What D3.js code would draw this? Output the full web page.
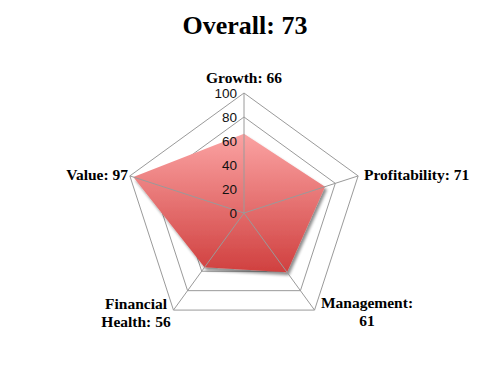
<!DOCTYPE html>
<html><head><meta charset="utf-8">
<script src="https://cdn.jsdelivr.net/npm/d3@7"></script>
<style>html,body{margin:0;padding:0;background:#fff;}svg{display:block;}</style>
</head><body>
<svg id="chart" width="490" height="381"></svg>
<script>
const categories = ["Growth", "Profitability", "Management", "Financial Health", "Value"];
const values = [66, 71, 61, 56, 97];
const labelLines = [["Growth: 66"], ["Profitability: 71"], ["Management:", "61"], ["Financial", "Health: 56"], ["Value: 97"]];
const ticks = [0, 20, 40, 60, 80, 100];
const title = "Overall: 73";

const svg = d3.select("#chart");
const cx = 244, cy = 213, R = 120;
const r = d3.scaleLinear().domain([0, 100]).range([0, R]);
const n = categories.length;
const ang = i => -Math.PI / 2 + i * 2 * Math.PI / n;
const pt = (i, v) => [cx + r(v) * Math.cos(ang(i)), cy + r(v) * Math.sin(ang(i))];

const defs = svg.append("defs");
const grad = defs.append("linearGradient").attr("id", "fillg").attr("x1", 0).attr("y1", 0).attr("x2", 0).attr("y2", 1);
grad.append("stop").attr("offset", "0%").attr("stop-color", "#fba3a3");
grad.append("stop").attr("offset", "100%").attr("stop-color", "#d0403f");
const f = defs.append("filter").attr("id", "shadow").attr("x", "-10%").attr("y", "-10%").attr("width", "130%").attr("height", "130%");
f.append("feGaussianBlur").attr("in", "SourceAlpha").attr("stdDeviation", 1.5).attr("result", "b");
f.append("feOffset").attr("in", "b").attr("dx", 2).attr("dy", 3).attr("result", "o");
f.append("feComponentTransfer").attr("in", "o").attr("result", "o2").append("feFuncA").attr("type", "linear").attr("slope", 0.45);
const m = f.append("feMerge");
m.append("feMergeNode").attr("in", "o2");
m.append("feMergeNode").attr("in", "SourceGraphic");

const line = d3.line().curve(d3.curveLinearClosed);

// rings
svg.append("g").selectAll("path").data(ticks.filter(t => t > 0)).join("path")
  .attr("d", t => line(d3.range(n).map(i => pt(i, t))))
  .attr("fill", "none").attr("stroke", "#9a9a9a").attr("stroke-width", 1);

// data area
svg.append("path")
  .attr("d", line(values.map((v, i) => pt(i, v))))
  .attr("fill", "url(#fillg)").attr("filter", "url(#shadow)");

// spokes
svg.append("g").selectAll("line").data(d3.range(n)).join("line")
  .attr("x1", cx).attr("y1", cy)
  .attr("x2", i => pt(i, 100)[0]).attr("y2", i => pt(i, 100)[1])
  .attr("stroke", "#9a9a9a").attr("stroke-width", 1);

// tick labels
svg.append("g").selectAll("text").data(ticks).join("text")
  .attr("x", cx - 7).attr("y", t => cy - r(t) + 5)
  .attr("text-anchor", "end")
  .attr("font-family", "'Liberation Sans', Arial, sans-serif").attr("font-size", 13.5).attr("fill", "#111")
  .text(t => t);

// category labels
const labelPos = [
  {x: 244, y: 83, anchor: "middle"},
  {x: 364, y: 180, anchor: "start"},
  {x: 367, y: 308, anchor: "middle"},
  {x: 136, y: 309, anchor: "middle"},
  {x: 128, y: 180, anchor: "end"}
];
const lg = svg.append("g").attr("font-family", "'Liberation Serif', 'DejaVu Serif', serif").attr("font-weight", "bold").attr("font-size", 15.5).attr("fill", "#000");
labelLines.forEach((lines, i) => {
  const t = lg.append("text").attr("text-anchor", labelPos[i].anchor);
  lines.forEach((s, k) => t.append("tspan").attr("x", labelPos[i].x).attr("y", labelPos[i].y + k * 18).text(s));
});

svg.append("text").attr("x", 245).attr("y", 34).attr("text-anchor", "middle")
  .attr("font-family", "'Liberation Serif', 'DejaVu Serif', serif").attr("font-weight", "bold").attr("font-size", 26)
  .text(title);
</script>
</body></html>
